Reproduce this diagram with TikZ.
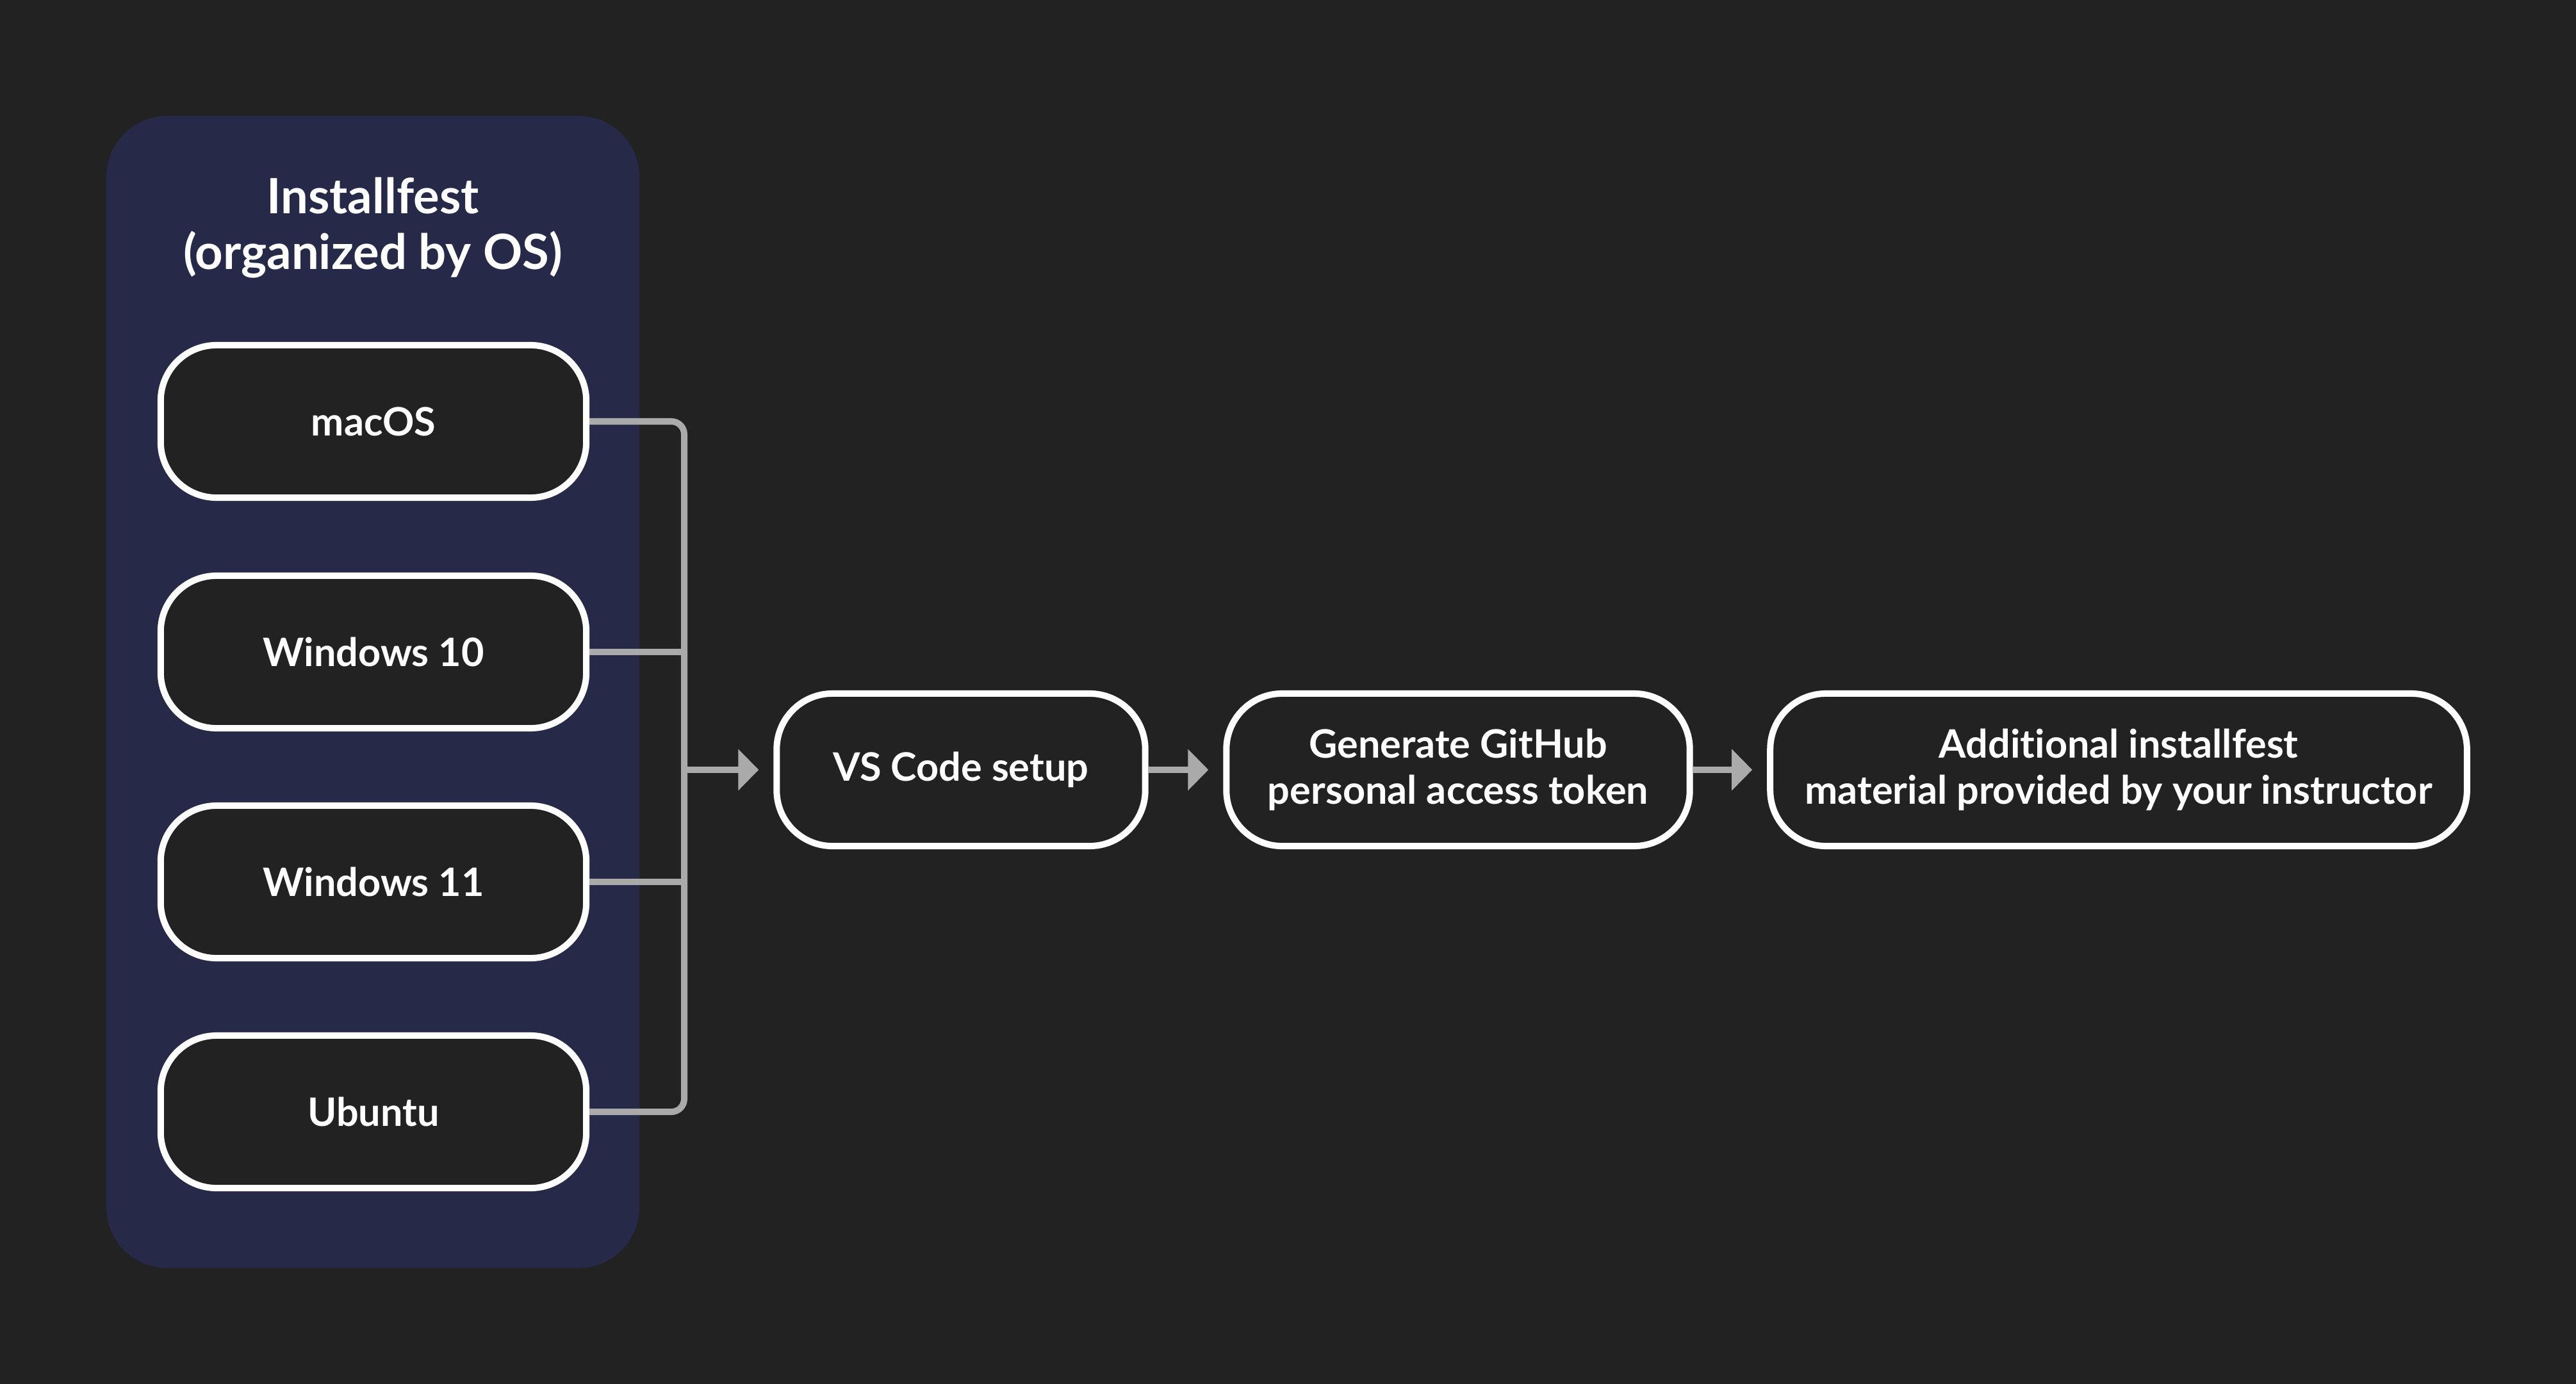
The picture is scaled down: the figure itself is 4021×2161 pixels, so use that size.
\documentclass[tikz,border=0pt]{standalone}
\usepackage{fontspec}
\setmainfont{Lato}[Ligatures=NoCommon]
\usetikzlibrary{arrows.meta}
\definecolor{bg}{HTML}{222222}
\definecolor{panel}{HTML}{262A48}
\definecolor{conn}{HTML}{AAAAAA}
\begin{document}
\begin{tikzpicture}[x=0.01cm,y=-0.01cm,
  stepbox/.style={draw=white, line width=0.1cm, fill=bg, rounded corners=0.87cm,
    minimum height=2.38cm, text=white, font=\fontsize{17.4}{20.5}\selectfont\bfseries,
    align=center, inner sep=0},
  link/.style={draw=conn, line width=0.1cm},
  arr/.style={link, -{Triangle[length=0.32cm,width=0.63cm]}, shorten >=0.23cm}]
\path[fill=bg] (0,0) rectangle (4021,2161);
\useasboundingbox (0,0) rectangle (4021,2161);
\path[fill=panel, rounded corners=0.95cm] (166,181) rectangle (998,1980);
\node[text=white, font=\fontsize{21.6}{24.7}\selectfont\bfseries, align=center] (title) at (582,356) {Installfest\\(organized by OS)};
\node[stepbox, minimum width=6.64cm] (mac) at (583,658) {macOS};
\node[stepbox, minimum width=6.64cm] (w10) at (583,1018) {Windows 10};
\node[stepbox, minimum width=6.64cm] (w11) at (583,1377) {Windows 11};
\node[stepbox, minimum width=6.64cm] (ubu) at (583,1736) {Ubuntu};
\node[stepbox, minimum width=5.75cm] (vs) at (1500,1202) {VS Code setup};
\node[stepbox, minimum width=7.23cm] (gh) at (2276,1202) {Generate GitHub\\personal access token};
\node[stepbox, minimum width=10.87cm] (add) at (3307,1202) {Additional installfest\\material provided by your instructor};
\coordinate (bt) at (1068,658);
\coordinate (bb) at (1068,1736);
\coordinate (bm) at (1068,1202);
\draw[link, rounded corners=0.2cm] (mac.east) -- (bt) -- (bb) -- (ubu.east);
\draw[link] (w10.east) -- (w10.east -| bt);
\draw[link] (w11.east) -- (w11.east -| bt);
\draw[arr] (bm) -- (vs.west);
\draw[arr] (vs.east) -- (gh.west);
\draw[arr] (gh.east) -- (add.west);
\end{tikzpicture}
\end{document}
